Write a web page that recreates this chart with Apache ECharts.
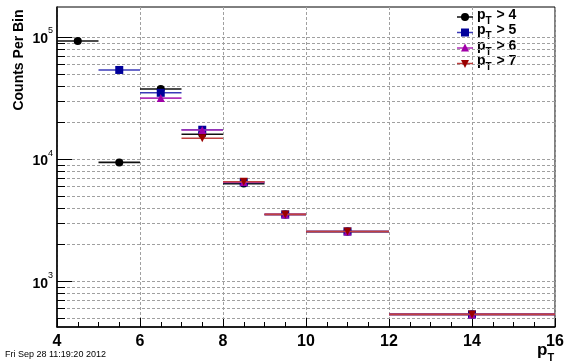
<!DOCTYPE html>
<html><head><meta charset="utf-8">
<script src="https://cdn.jsdelivr.net/npm/echarts@6/dist/echarts.min.js"></script>
<style>html,body{margin:0;padding:0;background:#fff}#c{width:567px;height:364px}</style>
</head><body><div id="c"></div>
<script>
// ---- data ----
const binLow    = [4, 5, 6, 7, 8, 9, 10, 12];
const binHigh   = [5, 6, 7, 8, 9, 10, 12, 16];
const binCenter = [4.5, 5.5, 6.5, 7.5, 8.5, 9.5, 11, 14];
const countsPt4 = [92700, 9400, 37500, 16000, 6300, 3515, 2550, 535];
const countsPt5 = [null, 53700, 34900, 17400, 6450, 3520, 2555, 535];
const countsPt6 = [null, null, 31600, 17300, 6480, 3525, 2555, 535];
const countsPt7 = [null, null, null, 14800, 6520, 3525, 2555, 535];
const seriesLabels = ['4', '5', '6', '7'];
const xTickLabels = ['4', '6', '8', '10', '12', '14', '16'];
const yMajorTicks = [1000, 10000, 100000];
const yMinorTicks = [500, 600, 700, 800, 900,
  2000, 3000, 4000, 5000, 6000, 7000, 8000, 9000,
  20000, 30000, 40000, 50000, 60000, 70000, 80000, 90000];
const xMin = 4, xMax = 16, yMin = 422, yMax = 176000;

// ---- styles ----
const FONT = '"Liberation Sans", Arial, Helvetica, sans-serif';
const styles = [
  {marker: 'circle', size: 8, rot: 0, color: '#000000', bar: '#111111'},
  {marker: 'rect', size: 8, rot: 0, color: '#00009a', bar: '#3a3ab8'},
  {marker: 'triangle', size: 8, rot: 0, color: '#a000a8', bar: '#b030b8'},
  {marker: 'triangle', size: 8, rot: 180, color: '#9a0000', bar: '#c04040'}
];
const allCounts = [countsPt4, countsPt5, countsPt6, countsPt7];

const series = [];
// grid lines + ticks on y (log)
const yTickData = yMajorTicks.map(v => [xMin, v, 1]).concat(yMinorTicks.map(v => [xMin, v, 0]));
series.push({
  type: 'custom', z: 1, silent: true, data: yTickData,
  encode: {x: 0, y: 1},
  renderItem: function (params, api) {
    const cs = params.coordSys;
    const y = Math.round(api.coord([xMin, api.value(1)])[1]) + 0.5;
    const len = api.value(2) ? 15 : 8;
    return {type: 'group', children: [
      {type: 'line', shape: {x1: cs.x, y1: y, x2: cs.x + cs.width, y2: y},
        style: {stroke: '#a0a0a0', lineWidth: 1, lineDash: [3, 2]}},
      {type: 'line', shape: {x1: cs.x, y1: y, x2: cs.x + len, y2: y},
        style: {stroke: '#000', lineWidth: 1}}
    ]};
  }
});

allCounts.forEach((arr, i) => {
  const st = styles[i];
  const barData = [], ptData = [];
  arr.forEach((v, k) => {
    if (v == null) return;
    barData.push([binLow[k], binHigh[k], v]);
    ptData.push([binCenter[k], v]);
  });
  series.push({
    type: 'custom', z: 2 + i * 2, silent: true, data: barData,
    encode: {x: [0, 1], y: 2},
    renderItem: function (params, api) {
      const p1 = api.coord([api.value(0), api.value(2)]);
      const p2 = api.coord([api.value(1), api.value(2)]);
      return {type: 'line', shape: {x1: p1[0], y1: p1[1], x2: p2[0], y2: p2[1]},
        style: {stroke: st.bar, lineWidth: 1.6}};
    }
  });
  series.push({
    type: 'scatter', z: 3 + i * 2, name: 'pT > ' + seriesLabels[i], data: ptData,
    symbol: st.marker, symbolSize: st.size, symbolRotate: st.rot,
    itemStyle: {color: st.color, opacity: 1}
  });
});

// ---- legend (graphic) ----
const legendY0 = 17, legendDy = 15.5, legendX = 457;
const graphics = [];
seriesLabels.forEach((lab, i) => {
  const st = styles[i];
  const y = legendY0 + i * legendDy;
  graphics.push({type: 'line', z: 100, shape: {x1: legendX, y1: y, x2: legendX + 16, y2: y},
    style: {stroke: st.bar, lineWidth: 1.5}});
  let mk;
  if (st.marker === 'circle') mk = {type: 'circle', shape: {cx: legendX + 8, cy: y, r: 4}, style: {fill: st.color}};
  else if (st.marker === 'rect') mk = {type: 'rect', shape: {x: legendX + 4, y: y - 4, width: 8, height: 8}, style: {fill: st.color}};
  else if (st.rot === 0) mk = {type: 'polygon', shape: {points: [[legendX + 8, y - 4.5], [legendX + 12, y + 3.5], [legendX + 4, y + 3.5]]}, style: {fill: st.color}};
  else mk = {type: 'polygon', shape: {points: [[legendX + 8, y + 4.5], [legendX + 12, y - 3.5], [legendX + 4, y - 3.5]]}, style: {fill: st.color}};
  mk.z = 101;
  graphics.push(mk);
  graphics.push({type: 'text', left: legendX + 20, top: y - 9,
    style: {text: '{a|p}{s|T}{a| > ' + lab + '}', font: 'bold 14px ' + FONT, fill: '#000',
      rich: {a: {fontSize: 14, fontWeight: 'bold', fontFamily: FONT, verticalAlign: 'top', lineHeight: 16},
             s: {fontSize: 10, fontWeight: 'bold', fontFamily: FONT, padding: [8, 1, 0, 0], lineHeight: 16, verticalAlign: 'top'}}}});
});
graphics.push({type: 'text', left: 5, top: 350,
  style: {text: 'Fri Sep 28 11:19:20 2012', font: '9px ' + FONT, fill: '#000'}});
graphics.push({type: 'text', left: 537, top: 342,
  style: {text: '{a|p}{s|T}', fill: '#000',
    rich: {a: {fontSize: 17, fontWeight: 'bold', fontFamily: FONT, verticalAlign: 'top', lineHeight: 18},
           s: {fontSize: 11, fontWeight: 'bold', fontFamily: FONT, padding: [10, 0, 0, 0], lineHeight: 18, verticalAlign: 'top'}}}});
graphics.push({type: 'text', x: 19, y: 60, rotation: Math.PI / 2,
  style: {text: 'Counts Per Bin', font: 'bold 14px ' + FONT, fill: '#000', align: 'center', verticalAlign: 'middle'}});

const chart = echarts.init(document.getElementById('c'), null, {renderer: 'canvas'});
chart.setOption({
  animation: false,
  backgroundColor: '#fff',
  grid: {left: 57, right: 12, top: 7, bottom: 37, show: true, borderColor: '#000', borderWidth: 1, containLabel: false},
  xAxis: {
    type: 'value', min: xMin, max: xMax, interval: 2,
    axisLine: {show: true, onZero: false, lineStyle: {color: '#000', width: 1.5}},
    axisTick: {show: true, inside: true, length: 9, lineStyle: {color: '#000'}},
    minorTick: {show: true, splitNumber: 4, length: 5, lineStyle: {color: '#000'}},
    axisLabel: {margin: 7, fontSize: 16, fontWeight: 'bold', fontFamily: FONT, color: '#000',
      formatter: v => xTickLabels.indexOf(String(v)) >= 0 ? String(v) : ''},
    splitLine: {show: true, lineStyle: {color: '#a0a0a0', type: [3, 2], width: 1}}
  },
  yAxis: {
    type: 'log', logBase: 10, min: yMin, max: yMax,
    axisLine: {show: true, lineStyle: {color: '#000', width: 1.5}},
    axisTick: {show: false},
    splitLine: {show: false},
    axisLabel: {margin: 4, showMinLabel: false, showMaxLabel: false,
      formatter: v => {
        const e = Math.round(Math.log10(v));
        if (yMajorTicks.indexOf(Math.pow(10, e)) < 0 || Math.abs(Math.log10(v) - e) > 1e-6) return '';
        return '{b|10}{s|' + e + '}';
      },
      rich: {b: {fontSize: 14, fontWeight: 'bold', fontFamily: FONT, color: '#000', padding: [5, 0, 0, 0]},
             s: {fontSize: 9, fontFamily: FONT, color: '#000', padding: [0, 0, 12, 0]}}}
  },
  graphic: graphics,
  series: series
});
</script></body></html>
